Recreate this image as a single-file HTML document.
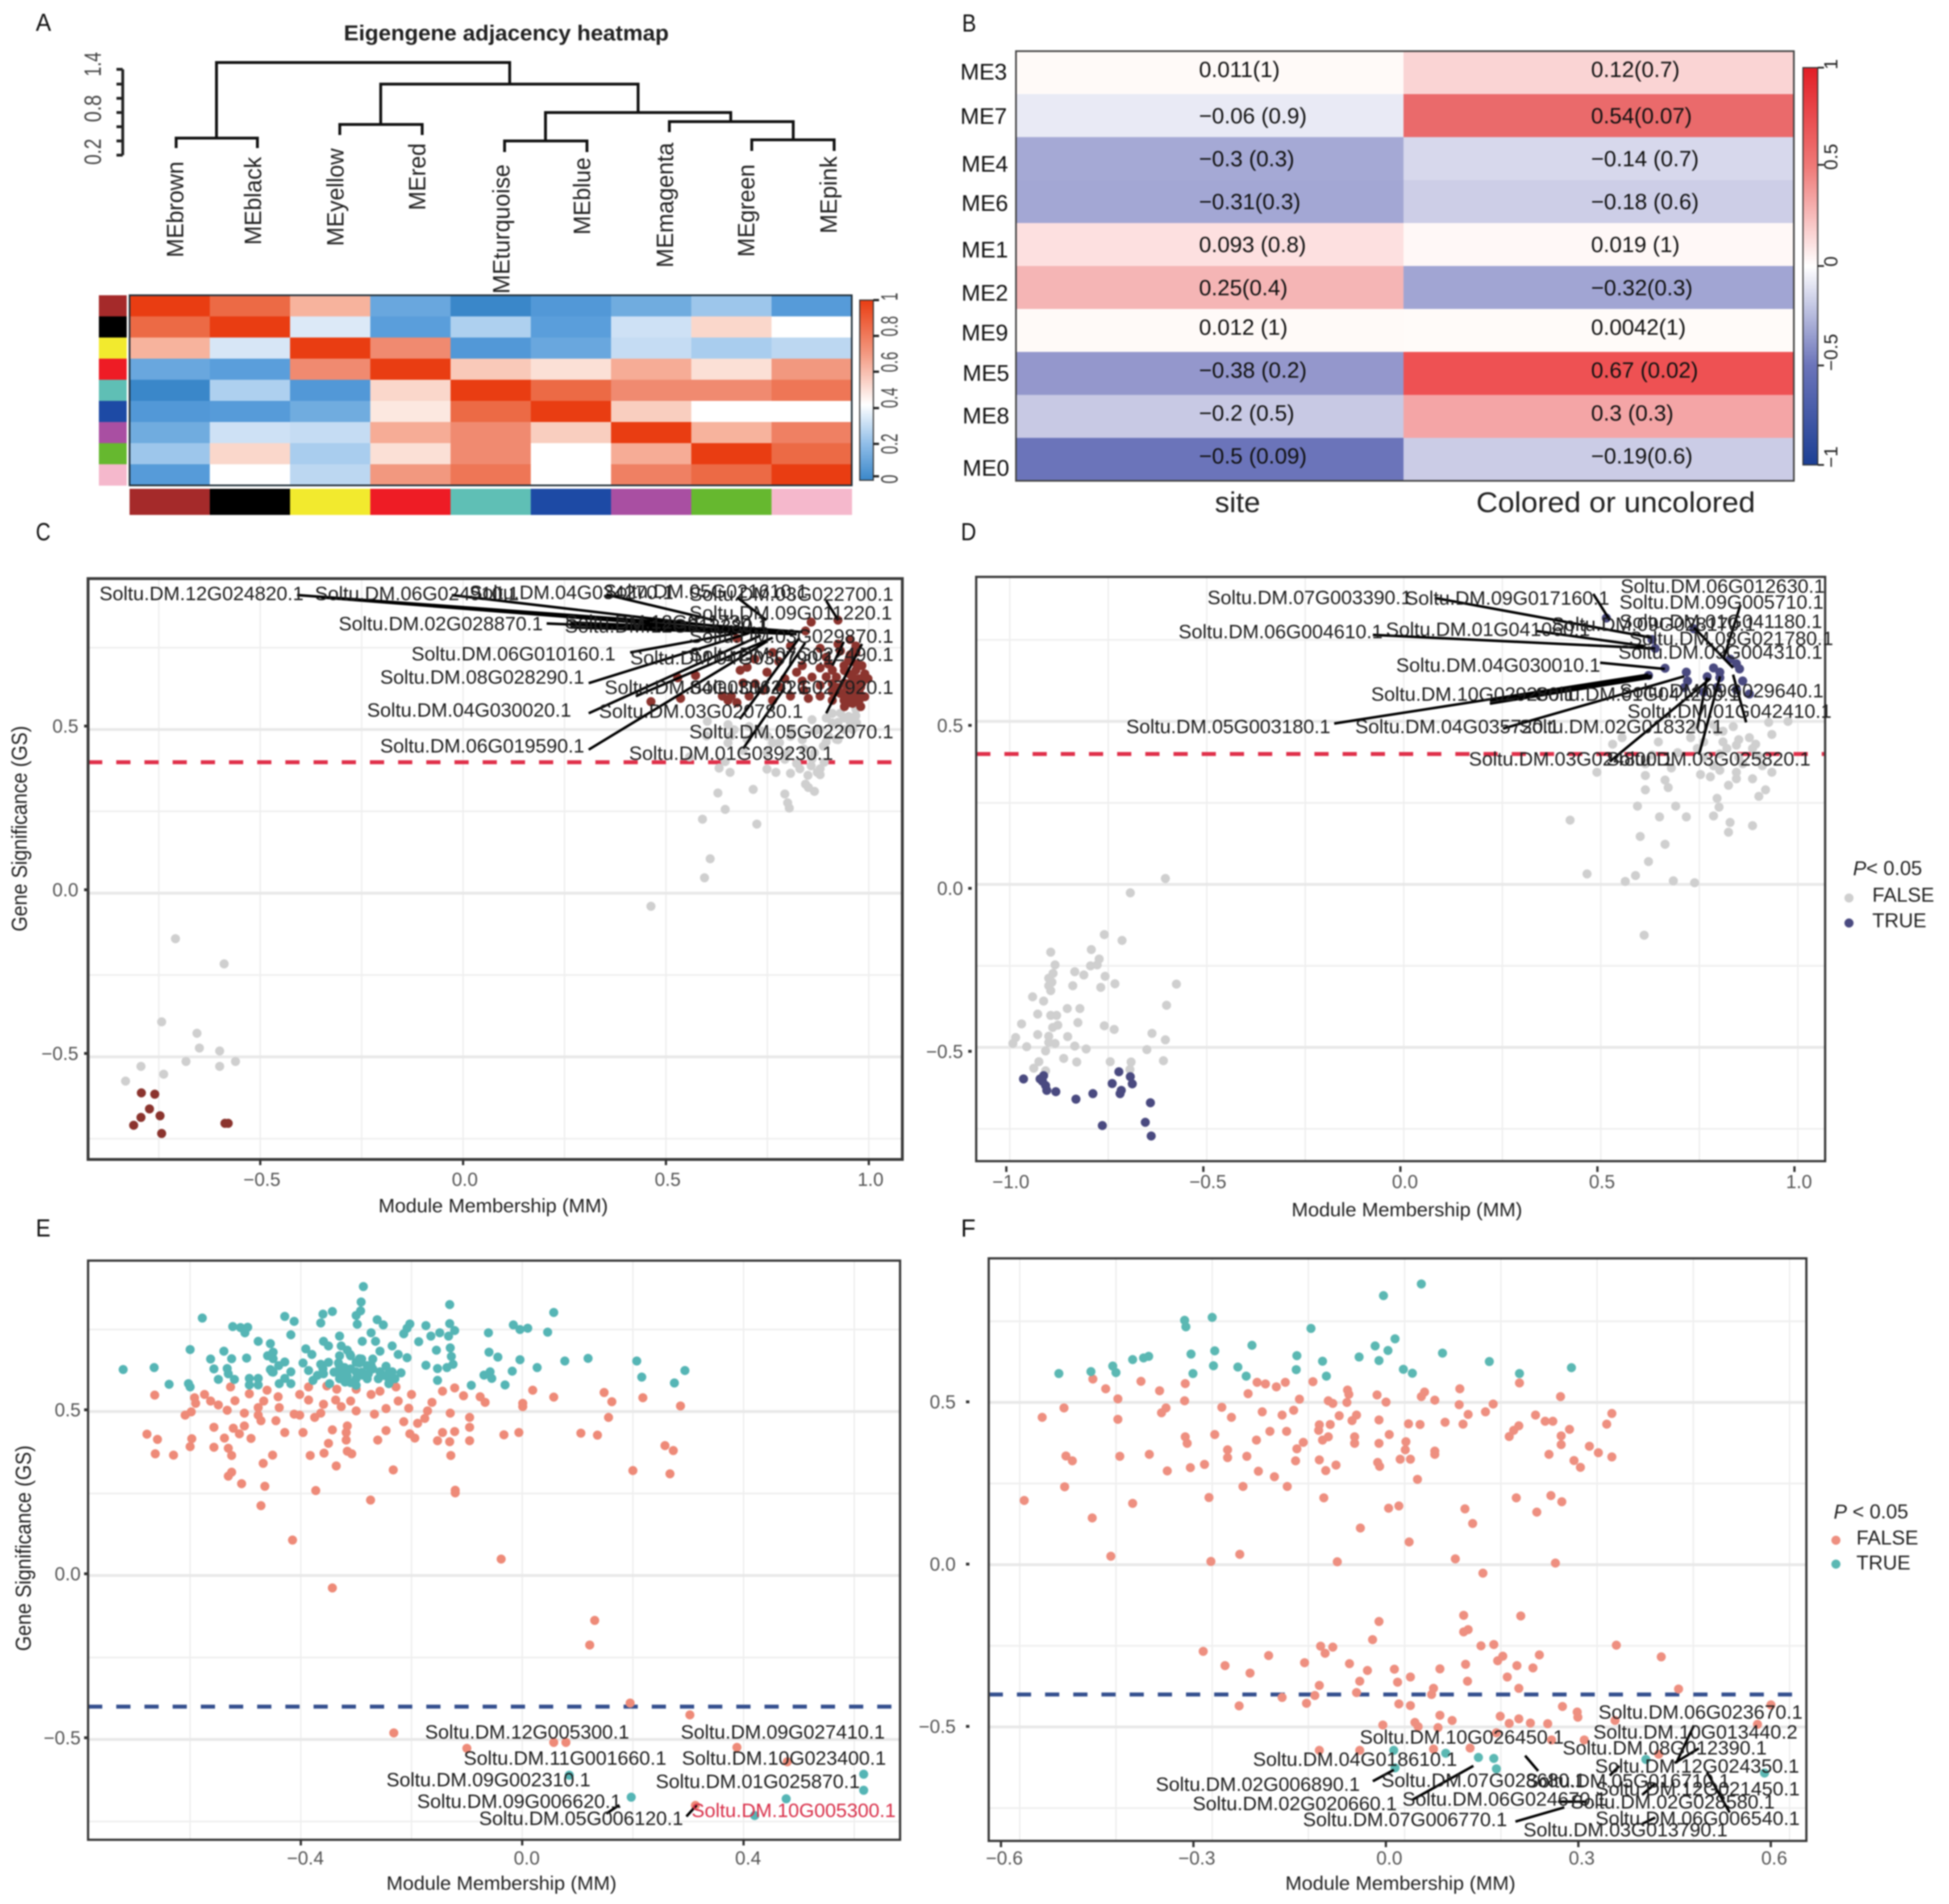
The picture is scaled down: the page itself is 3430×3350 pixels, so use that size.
<!DOCTYPE html>
<html lang="en">
<head>
<meta charset="utf-8">
<title>WGCNA module figure</title>
<style>
html,body{margin:0;padding:0;background:#fff;}
svg{display:block;filter:blur(1.3px);}
text{font-family:"Liberation Sans",Arial,sans-serif;dominant-baseline:central;}
.g{font-size:34.4px;fill:#1d1d1d;}
.c{stroke:#000;stroke-width:4.5;fill:none;}
.pl{font-size:44px;fill:#111;}
.row{font-size:40px;fill:#111;}
.lg{font-size:33px;fill:#222;}
.me{font-size:42px;fill:#222;}
.ax{font-size:42px;fill:#444;}
.dn{stroke:#111;stroke-width:5;fill:none;stroke-linecap:square;}
</style>
</head>
<body>
<svg id="figure" xmlns="http://www.w3.org/2000/svg" width="3430" height="3350" viewBox="0 0 3430 3350">
<defs>
<linearGradient id="adjGrad" x1="0" y1="1" x2="0" y2="0">
<stop offset="0" stop-color="#3a87c9"/><stop offset="0.2" stop-color="#8fbde8"/><stop offset="0.42" stop-color="#ffffff"/><stop offset="0.7" stop-color="#f39a82"/><stop offset="1" stop-color="#e93d12"/>
</linearGradient>
<linearGradient id="corGrad" x1="0" y1="1" x2="0" y2="0">
<stop offset="0" stop-color="#1c3f94"/><stop offset="0.25" stop-color="#6b74ba"/><stop offset="0.5" stop-color="#ffffff"/><stop offset="0.75" stop-color="#ef7a78"/><stop offset="1" stop-color="#e21e26"/>
</linearGradient>
</defs>

<rect x="0" y="0" width="3430" height="3350" fill="#ffffff"/>

<text class="pl" x="63" y="40" textLength="27" lengthAdjust="spacingAndGlyphs">A</text>
<text class="pl" x="1693" y="41" textLength="25" lengthAdjust="spacingAndGlyphs">B</text>
<text class="pl" x="63" y="936" textLength="26" lengthAdjust="spacingAndGlyphs">C</text>
<text class="pl" x="1691" y="936" textLength="27" lengthAdjust="spacingAndGlyphs">D</text>
<text class="pl" x="63" y="2161" textLength="26" lengthAdjust="spacingAndGlyphs">E</text>
<text class="pl" x="1691" y="2161" textLength="26" lengthAdjust="spacingAndGlyphs">F</text>

<!-- Panel A -->
<text x="605" y="59" font-size="38" font-weight="700" fill="#222" textLength="572" lengthAdjust="spacingAndGlyphs">Eigengene adjacency heatmap</text>
<g>
<path class="dn" d="M310 258V243H453V258M381 243V110H897V148"/>
<path class="dn" d="M670 219V148H1123V198"/>
<path class="dn" d="M598 235V219H743V235"/>
<path class="dn" d="M960 248V198H1286V214"/>
<path class="dn" d="M888 265V248H1033V265"/>
<path class="dn" d="M1178 230V214H1396V246"/>
<path class="dn" d="M1323 263V246H1468V263"/>
</g>
<g>
<path d="M216 122V273M205 122H216M205 148H216M205 173H216M205 198H216M205 223H216M205 248H216M205 273H216" stroke="#222" stroke-width="5" fill="none"/>
<text class="ax" transform="rotate(-90 163 113)" x="163" y="113" text-anchor="middle" textLength="43" lengthAdjust="spacingAndGlyphs">1.4</text>
<text class="ax" transform="rotate(-90 163 191)" x="163" y="191" text-anchor="middle" textLength="48" lengthAdjust="spacingAndGlyphs">0.8</text>
<text class="ax" transform="rotate(-90 163 267)" x="163" y="267" text-anchor="middle" textLength="46" lengthAdjust="spacingAndGlyphs">0.2</text>
</g>
<g>
<text class="me" transform="rotate(-90 308 453)" x="308" y="453" textLength="169" lengthAdjust="spacingAndGlyphs">MEbrown</text>
<text class="me" transform="rotate(-90 445 431)" x="445" y="431" textLength="155" lengthAdjust="spacingAndGlyphs">MEblack</text>
<text class="me" transform="rotate(-90 590 433)" x="590" y="433" textLength="172" lengthAdjust="spacingAndGlyphs">MEyellow</text>
<text class="me" transform="rotate(-90 734 370)" x="734" y="370" textLength="118" lengthAdjust="spacingAndGlyphs">MEred</text>
<text class="me" transform="rotate(-90 882 517)" x="882" y="517" textLength="228" lengthAdjust="spacingAndGlyphs">MEturquoise</text>
<text class="me" transform="rotate(-90 1024 413)" x="1024" y="413" textLength="136" lengthAdjust="spacingAndGlyphs">MEblue</text>
<text class="me" transform="rotate(-90 1170 471)" x="1170" y="471" textLength="220" lengthAdjust="spacingAndGlyphs">MEmagenta</text>
<text class="me" transform="rotate(-90 1313 452)" x="1313" y="452" textLength="163" lengthAdjust="spacingAndGlyphs">MEgreen</text>
<text class="me" transform="rotate(-90 1458 411)" x="1458" y="411" textLength="136" lengthAdjust="spacingAndGlyphs">MEpink</text>
</g>
<g id="adjacency-heatmap"></g>
<g>
<rect x="1513" y="528" width="24" height="317" fill="url(#adjGrad)" stroke="#333" stroke-width="2"/>
<path d="M1537 528H1547M1537 591H1547M1537 654H1547M1537 718H1547M1537 781H1547M1537 838H1547" stroke="#222" stroke-width="4"/>
<text class="ax" transform="rotate(-90 1565 522)" x="1565" y="522" text-anchor="middle" textLength="14" lengthAdjust="spacingAndGlyphs">1</text>
<text class="ax" transform="rotate(-90 1565 574)" x="1565" y="574" text-anchor="middle" textLength="36" lengthAdjust="spacingAndGlyphs">0.8</text>
<text class="ax" transform="rotate(-90 1565 637)" x="1565" y="637" text-anchor="middle" textLength="36" lengthAdjust="spacingAndGlyphs">0.6</text>
<text class="ax" transform="rotate(-90 1565 700)" x="1565" y="700" text-anchor="middle" textLength="36" lengthAdjust="spacingAndGlyphs">0.4</text>
<text class="ax" transform="rotate(-90 1565 781)" x="1565" y="781" text-anchor="middle" textLength="36" lengthAdjust="spacingAndGlyphs">0.2</text>
<text class="ax" transform="rotate(-90 1565 843)" x="1565" y="843" text-anchor="middle" textLength="16" lengthAdjust="spacingAndGlyphs">0</text>
</g>

<!-- Panel B -->
<g id="trait-heatmap"></g>
<g>
<text class="row" x="1690" y="127">ME3</text>
<text class="row" x="1690" y="205">ME7</text>
<text class="row" x="1692" y="289">ME4</text>
<text class="row" x="1692" y="358">ME6</text>
<text class="row" x="1692" y="440">ME1</text>
<text class="row" x="1692" y="516">ME2</text>
<text class="row" x="1692" y="586">ME9</text>
<text class="row" x="1694" y="657">ME5</text>
<text class="row" x="1694" y="732">ME8</text>
<text class="row" x="1694" y="824">ME0</text>
</g>
<text x="2138" y="884" font-size="50" fill="#222" textLength="80" lengthAdjust="spacingAndGlyphs">site</text>
<text x="2598" y="884" font-size="50" fill="#222" textLength="491" lengthAdjust="spacingAndGlyphs">Colored or uncolored</text>
<g>
<rect x="3173" y="119" width="26" height="699" fill="url(#corGrad)" stroke="#333" stroke-width="2"/>
<path d="M3199 119H3210M3199 290H3210M3199 468H3210M3199 643H3210M3199 818H3210" stroke="#222" stroke-width="3"/>
<text class="lg" transform="rotate(-90 3222 113)" x="3222" y="113" text-anchor="middle">1</text>
<text class="lg" transform="rotate(-90 3222 276)" x="3222" y="276" text-anchor="middle">0.5</text>
<text class="lg" transform="rotate(-90 3222 460)" x="3222" y="460" text-anchor="middle">0</text>
<text class="lg" transform="rotate(-90 3222 620)" x="3222" y="620" text-anchor="middle">−0.5</text>
<text class="lg" transform="rotate(-90 3222 804)" x="3222" y="804" text-anchor="middle">−1</text>
</g>

<!-- Panel C -->
<g id="plot-c"></g>
<g>
<path class="c" d="M523 1047L1412 1112M565 1051L1308 1110M795 1047L1297 1106M1067 1046L1255 1091M1297 1051L1349 1091M1454 1057L1475 1091M962 1097L1402 1116M1004 1095L1391 1112M1004 1104L1360 1114M1109 1148L1297 1114M1036 1202L1318 1114M1036 1255L1339 1118M1119 1225L1360 1122M1036 1319L1349 1129M1302 1265L1407 1122M1308 1317L1381 1210M1454 1255L1517 1133M1465 1171L1485 1129M1360 1217L1417 1131"/>
</g>
<g>
<text class="g" x="175" y="1045">Soltu.DM.12G024820.1</text>
<text class="g" x="554" y="1045">Soltu.DM.06G024910.1</text>
<text class="g" x="826" y="1043">Soltu.DM.04G034270.1</text>
<text class="g" x="1062" y="1041">Soltu.DM.05G021610.1</text>
<text class="g" x="1213" y="1046">Soltu.DM.03G022700.1</text>
<text class="g" x="1213" y="1079">Soltu.DM.09G011220.1</text>
<text class="g" x="596" y="1098">Soltu.DM.02G028870.1</text>
<text class="g" x="994" y="1095">Soltu.DM.12G011730.1</text>
<text class="g" x="994" y="1102">Soltu.DM.12G013380.1</text>
<text class="g" x="1213" y="1120">Soltu.DM.03G029870.1</text>
<text class="g" x="724" y="1151">Soltu.DM.06G010160.1</text>
<text class="g" x="1109" y="1158">Soltu.DM.04G030790.1</text>
<text class="g" x="1213" y="1152">Soltu.DM.07G022490.1</text>
<text class="g" x="669" y="1192">Soltu.DM.08G028290.1</text>
<text class="g" x="1064" y="1210">Soltu.DM.04G030620.1</text>
<text class="g" x="1213" y="1210">Soltu.DM.02G027920.1</text>
<text class="g" x="646" y="1250">Soltu.DM.04G030020.1</text>
<text class="g" x="1054" y="1252">Soltu.DM.03G020780.1</text>
<text class="g" x="1213" y="1288">Soltu.DM.05G022070.1</text>
<text class="g" x="669" y="1313">Soltu.DM.06G019590.1</text>
<text class="g" x="1107" y="1326">Soltu.DM.01G039230.1</text>
</g>

<!-- Panel D -->
<g id="plot-d"></g>
<g>
<path class="c" d="M2525 1052L2907 1122M2804 1045L2833 1091M3063 1064L3033 1160M2416 1117L2913 1141M2702 1110L2896 1137M2981 1104L3050 1175M2816 1166L2930 1177M2348 1273L2901 1187M2622 1233L2907 1189M2622 1238L2907 1192M2645 1282L2964 1190M2833 1340L3010 1194M2990 1328L3027 1190M3073 1271L3050 1187M2987 1282L3004 1192"/>
</g>
<g>
<text class="g" x="2852" y="1032">Soltu.DM.06G012630.1</text>
<text class="g" x="2850" y="1060">Soltu.DM.09G005710.1</text>
<text class="g" x="2125" y="1052">Soltu.DM.07G003390.1</text>
<text class="g" x="2473" y="1053">Soltu.DM.09G017160.1</text>
<text class="g" x="2850" y="1094">Soltu.DM.01G041180.1</text>
<text class="g" x="2730" y="1099">Soltu.DM.09G028170.1</text>
<text class="g" x="2074" y="1112">Soltu.DM.06G004610.1</text>
<text class="g" x="2439" y="1108">Soltu.DM.01G041060.1</text>
<text class="g" x="2867" y="1124">Soltu.DM.08G021780.1</text>
<text class="g" x="2848" y="1148">Soltu.DM.09G004310.1</text>
<text class="g" x="2457" y="1171">Soltu.DM.04G030010.1</text>
<text class="g" x="2413" y="1222">Soltu.DM.10G029280.1</text>
<text class="g" x="2702" y="1222">Soltu.DM.01G041200.1</text>
<text class="g" x="2850" y="1216">Soltu.DM.09G029640.1</text>
<text class="g" x="2864" y="1252">Soltu.DM.01G042410.1</text>
<text class="g" x="1982" y="1279">Soltu.DM.05G003180.1</text>
<text class="g" x="2385" y="1279">Soltu.DM.04G035720.1</text>
<text class="g" x="2673" y="1279">Soltu.DM.02G018320.1</text>
<text class="g" x="2585" y="1336">Soltu.DM.03G024800.1</text>
<text class="g" x="2827" y="1336">Soltu.DM.03G025820.1</text>
</g>
<g>
<text x="3261" y="1528" font-size="35" fill="#222"><tspan font-style="italic">P</tspan>&lt; 0.05</text>
<circle cx="3254" cy="1580" r="8" fill="#cfcfcf"/>
<text x="3295" y="1575" font-size="35" fill="#222">FALSE</text>
<circle cx="3254" cy="1624" r="8" fill="#4a4a80"/>
<text x="3295" y="1620" font-size="35" fill="#222">TRUE</text>
</g>

<!-- Panel E -->
<g id="plot-e"></g>
<g>
<path class="c" d="M1067 3191L1090 3176M1208 3196L1226 3176"/>
</g>
<g>
<text class="g" x="748" y="3048">Soltu.DM.12G005300.1</text>
<text class="g" x="1198" y="3048">Soltu.DM.09G027410.1</text>
<text class="g" x="816" y="3094">Soltu.DM.11G001660.1</text>
<text class="g" x="1200" y="3094">Soltu.DM.10G023400.1</text>
<text class="g" x="680" y="3132">Soltu.DM.09G002310.1</text>
<text class="g" x="1154" y="3135">Soltu.DM.01G025870.1</text>
<text class="g" x="734" y="3170">Soltu.DM.09G006620.1</text>
<text class="g" x="843" y="3200">Soltu.DM.05G006120.1</text>
<text class="g" x="1217" y="3186" style="fill:#d9304a">Soltu.DM.10G005300.1</text>
</g>

<!-- Panel F -->
<g id="plot-f"></g>
<g>
<path class="c" d="M2981 3036L2950 3102M2990 3076L2947 3102M2833 3124L2850 3107M2913 3138L2890 3158M3004 3118L3044 3189M2684 3089L2707 3116M2416 3134L2453 3114M2593 3107L2485 3167M2667 3205L2753 3180M2742 3170L2793 3170M2890 3209L2913 3198"/>
</g>
<g>
<text class="g" x="2813" y="3013">Soltu.DM.06G023670.1</text>
<text class="g" x="2804" y="3048">Soltu.DM.10G013440.2</text>
<text class="g" x="2750" y="3076">Soltu.DM.08G012390.1</text>
<text class="g" x="2393" y="3057">Soltu.DM.10G026450.1</text>
<text class="g" x="2205" y="3096">Soltu.DM.04G018610.1</text>
<text class="g" x="2807" y="3108">Soltu.DM.12G024350.1</text>
<text class="g" x="2034" y="3140">Soltu.DM.02G006890.1</text>
<text class="g" x="2431" y="3133">Soltu.DM.07G028680.1</text>
<text class="g" x="2685" y="3134">Soltu.DM.05G016710.1</text>
<text class="g" x="2808" y="3148">Soltu.DM.12G021450.1</text>
<text class="g" x="2099" y="3174">Soltu.DM.02G020660.1</text>
<text class="g" x="2468" y="3166">Soltu.DM.06G024670.1</text>
<text class="g" x="2764" y="3171">Soltu.DM.02G028580.1</text>
<text class="g" x="2293" y="3202">Soltu.DM.07G006770.1</text>
<text class="g" x="2808" y="3200">Soltu.DM.06G006540.1</text>
<text class="g" x="2681" y="3220">Soltu.DM.03G013790.1</text>
</g>
<g>
<text x="3227" y="2660" font-size="35" fill="#222"><tspan font-style="italic">P</tspan> &lt; 0.05</text>
<circle cx="3231" cy="2710" r="8" fill="#ee8f80"/>
<text x="3267" y="2706" font-size="35" fill="#222">FALSE</text>
<circle cx="3231" cy="2752" r="8" fill="#5bb8b3"/>
<text x="3267" y="2750" font-size="35" fill="#222">TRUE</text>
</g>
</svg>

<script>
/* Panel A data */
const adjModules = ['brown','black','yellow','red','turquoise','blue','magenta','green','pink'];
const adjModuleColors = ['#a52a2a','#000000','#f2ea2e','#ee1c25','#5fbfb5','#1d4aa5','#a94fa2','#66b82f','#f5b8cc'];
const adjMatrix = [
[1,.85,.6,.12,0,.06,.14,.22,.07],
[.85,1,.35,.08,.25,.08,.32,.52,.42],
[.6,.34,1,.72,.06,.12,.3,.24,.28],
[.12,.08,.72,1,.55,.5,.62,.5,.68],
[0,.25,.06,.52,1,.85,.72,.72,.8],
[.06,.07,.14,.48,.85,1,.54,.42,.42],
[.14,.32,.3,.62,.72,.54,1,.6,.76],
[.22,.52,.24,.5,.72,.42,.62,1,.85],
[.07,.42,.28,.68,.8,.42,.76,.85,1]];

/* Panel B data */
const traitRows = ['ME3','ME7','ME4','ME6','ME1','ME2','ME9','ME5','ME8','ME0'];
const siteCor = [.011,-.06,-.3,-.31,.093,.25,.012,-.38,-.2,-.5];
const colorCor = [.12,.54,-.14,-.18,.019,-.32,.0042,.67,.3,-.19];
const sitePrinted = ['0.011(1)','−0.06 (0.9)','−0.3 (0.3)','−0.31(0.3)','0.093 (0.8)','0.25(0.4)','0.012 (1)','−0.38 (0.2)','−0.2 (0.5)','−0.5 (0.09)'];
const colorPrinted = ['0.12(0.7)','0.54(0.07)','−0.14 (0.7)','−0.18 (0.6)','0.019 (1)','−0.32(0.3)','0.0042(1)','0.67 (0.02)','0.3 (0.3)','−0.19(0.6)'];

/* Panel C data */
const cXTicks = [-.5,0,.5,1];
const cXMinor = [-.75,-.25,.25,.75];
const cYTicks = [.5,0,-.5];
const cYMinor = [.75,.25,-.25,-.75];
const cThreshold = [.4];
const cFalseMM = [-.709,-.589,-.743,-.656,-.65,-.6,-.561,-.683,-.6,-.794,-.738,-.832,.463,.595,.609,.724,.59,.646,.804,.8,.793,.628,.715,.866,.844,.851,.873,.807,.771,.658,.88,.631,.749,.858,.602,.653,.668,.705,.734,.807,.836,.895,.924,.653,.763,.807,.91,.939,.968,.954,.924,.895,.968,.866,.69,.749,.866,.888,.558,.646,.793,.822,.93,.95,.97,.91,.94,.96,.88,.86,.9,.92,.84,.8,.78,.75,.7,.66,.6,.86,.89,.83,.88,.85];
const cFalseGS = [-.139,-.216,-.393,-.428,-.473,-.482,-.514,-.514,-.529,-.529,-.553,-.574,-.04,.047,.105,.211,.226,.256,.26,.276,.303,.306,.317,.311,.333,.323,.369,.366,.369,.369,.362,.382,.379,.389,.525,.515,.499,.509,.495,.502,.469,.462,.469,.459,.459,.479,.549,.535,.562,.522,.522,.535,.542,.495,.436,.429,.429,.449,.416,.402,.409,.396,.55,.54,.52,.52,.5,.5,.5,.53,.48,.47,.44,.43,.46,.48,.47,.48,.48,.41,.4,.38,.38,.36];
const cTrueMM = [-.793,-.76,-.773,-.794,-.747,-.812,-.743,-.587,-.579,.858,.924,.844,.675,.954,.924,.968,.807,.88,.763,.683,.749,.822,.88,.91,.939,.968,.983,.954,.976,.895,.836,.793,.573,.529,.536,.463,.661,.675,.705,.763,.807,.851,.91,.939,.968,.983,.954,.976,.924,.968,.983,.998,.88,.836,.778,.719,.895,.954,.968,.69,.939,.91,.968,.946,.961,.939,.976,.88,.653,.639,.93,.95,.97,.99,.94,.96,.92,.98,.95,.97,.93,.99,.96,.94,.98,.97,.95,.985,.91,.9,.86,.84,.78,.72,.7,.74];
const cTrueGS = [-.61,-.614,-.659,-.685,-.68,-.709,-.734,-.703,-.703,.828,.834,.801,.778,.775,.761,.755,.755,.748,.735,.681,.675,.675,.688,.681,.695,.681,.695,.668,.655,.661,.648,.655,.665,.658,.595,.585,.602,.582,.602,.589,.602,.595,.615,.602,.595,.602,.582,.615,.628,.635,.642,.655,.635,.695,.708,.715,.721,.728,.735,.642,.642,.589,.622,.622,.608,.589,.589,.602,.589,.602,.74,.71,.7,.67,.68,.66,.66,.63,.64,.61,.61,.6,.58,.57,.57,.64,.6,.65,.64,.7,.66,.62,.63,.64,.69,.62];

/* Panel D data */
const dXTicks = [-1,-.5,0,.5,1];
const dXMinor = [-.75,-.25,.25,.75];
const dYTicks = [.5,0,-.5];
const dYMinor = [.75,.25,-.25,-.75];
const dThreshold = [.4];
const dFalseMM = [-.605,-.694,-.76,-.715,-.793,-.896,-.773,-.885,-.795,-.778,-.835,-.812,-.89,-.758,-.901,-.893,-.733,-.577,-.84,-.901,-.769,-.896,-.942,-.914,-.602,-.854,-.822,-.929,-.896,-.881,-.97,-.827,-.878,-.891,-.76,-.735,-.929,-.639,-.901,-.853,-.985,-.992,-.605,-.901,-.885,-.957,-.835,-.806,-.652,-.909,-.863,-.83,-.926,-.745,-.61,-.692,-.939,-.695,-.909,.465,.588,.562,.621,.684,.738,.61,.422,.6,.663,.593,.69,.649,.717,.786,.8,.828,.824,.885,.613,.663,.671,.613,.49,.795,.901,.918,.824,.885,.844,.778,.934,.753,.802,.53,.554,.761,.81,.85,.893,.885,.844,.82,.745,.761,.802,.85,.9,.795,.836,.877,.934,.786,.926,.975,.81,.63,.613,.679,.786,.86,.91,.844,.728,.736,.646,.695];
const dFalseGS = [.018,-.026,-.154,-.172,-.2,-.208,-.229,-.247,-.25,-.247,-.268,-.278,-.273,-.282,-.288,-.3,-.305,-.306,-.311,-.311,-.316,-.326,-.345,-.358,-.371,-.381,-.381,-.398,-.402,-.402,-.428,-.424,-.432,-.439,-.434,-.445,-.461,-.457,-.466,-.467,-.47,-.488,-.477,-.485,-.488,-.498,-.496,-.505,-.507,-.511,-.534,-.545,-.544,-.544,-.541,-.545,-.564,-.568,-.572,.032,.027,.009,.07,.011,.005,-.156,.197,.147,.123,.24,.24,.207,.207,.21,.237,.19,.16,.18,.29,.32,.297,.334,.344,.264,.27,.29,.304,.324,.324,.33,.344,.337,.35,.43,.45,.437,.437,.444,.43,.417,.427,.417,.417,.39,.4,.39,.394,.47,.484,.45,.46,.49,.497,.5,.47,.397,.37,.357,.364,.37,.364,.344,.45,.484,.437,.404];
const dTrueMM = [-.965,-.923,-.914,-.917,-.909,-.906,-.883,-.832,-.789,-.74,-.723,-.694,-.689,-.717,-.72,-.643,-.656,-.765,-.641,.63,.638,.663,.621,.717,.514,.736,.802,.844,.852,.786,.77,.802,.86,.877,.828,.844,.761,.72,.712,.795];
const dTrueGS = [-.597,-.597,-.587,-.604,-.617,-.632,-.636,-.659,-.642,-.611,-.575,-.59,-.612,-.632,-.642,-.67,-.73,-.74,-.772,.751,.724,.663,.641,.651,.817,.784,.651,.677,.661,.664,.637,.634,.624,.584,.691,.597,.59,.624,.604,.604];

/* Panel E data */
const eXTicks = [-.4,0,.4];
const eXMinor = [-.6,-.2,.2,.6];
const eYTicks = [.5,0,-.5];
const eYMinor = [.75,.25,-.25,-.75];
const eThreshold = [-.4];
const eFalseMM = [-.664,-.574,-.592,-.527,-.493,-.461,-.441,-.402,-.386,-.353,-.335,-.3,-.273,-.257,-.228,-.2,-.144,-.122,-.106,-.076,.019,.057,.148,.218,.162,.001,-.067,.286,.001,-.59,-.563,-.549,-.519,-.467,-.386,-.359,-.337,-.31,-.224,-.163,-.609,-.598,-.533,-.502,-.477,-.477,-.439,-.412,-.402,-.375,-.364,-.327,-.3,-.267,-.246,-.205,-.171,-.13,-.095,-.472,-.445,-.214,-.176,-.189,.156,-.557,-.502,-.522,-.511,-.316,-.095,-.678,-.659,-.597,-.538,-.49,-.429,-.396,-.343,-.318,-.246,-.203,-.144,-.122,-.033,-.006,.106,.136,-.318,-.261,-.194,-.153,-.131,-.095,-.6,-.557,-.531,-.525,-.663,-.63,-.451,-.383,-.35,-.358,-.316,-.308,-.129,.258,.273,-.468,-.336,-.233,.2,.267,-.531,-.525,-.507,-.465,-.373,-.121,-.121,-.274,-.472,-.415,-.038,-.343,.131,.122,.195,.303,-.232,.057,.079,-.1,.388,.479,.313];
const eFalseGS = [.55,.552,.542,.575,.554,.565,.545,.552,.575,.578,.568,.568,.552,.562,.575,.552,.562,.572,.548,.545,.565,.544,.558,.542,.53,.525,.528,.517,.515,.525,.532,.52,.533,.532,.535,.522,.535,.532,.532,.528,.489,.499,.504,.495,.512,.489,.512,.492,.489,.482,.495,.515,.502,.492,.509,.51,.502,.495,.482,.472,.472,.469,.479,.464,.482,.452,.456,.449,.432,.456,.452,.431,.415,.417,.419,.418,.436,.436,.444,.436,.442,.432,.436,.439,.429,.436,.434,.428,.413,.413,.419,.411,.408,.411,.393,.391,.388,.366,.371,.367,.367,.366,.403,.373,.379,.371,.366,.396,.381,.342,.334,.322,.32,.31,.303,.315,.28,.272,.259,.26,.252,.23,.213,.108,.05,-.038,-.137,-.212,-.389,-.425,-.48,-.509,-.509,-.527,-.524,-.568,-.701];
const eTrueMM = [-.287,-.291,-.292,-.3,-.131,.057,-.578,-.429,-.412,-.343,-.36,-.364,-.298,-.262,-.251,-.203,-.208,-.214,-.174,-.131,-.122,-.149,-.165,-.133,-.061,-.016,-.004,.01,.046,-.523,-.509,-.496,-.501,-.418,-.477,-.455,-.273,-.33,-.359,-.289,-.265,-.35,-.327,-.6,-.539,-.391,-.316,-.235,-.257,-.187,-.155,-.13,-.06,-.044,-.004,.077,.119,.207,.294,-.45,-.563,-.525,-.498,-.45,-.38,-.311,-.294,-.224,-.208,-.128,-.125,-.721,-.665,-.557,-.533,-.455,-.429,-.396,-.364,-.332,-.294,-.321,-.273,-.246,-.174,-.153,-.136,-.018,.027,-.069,-.058,-.055,.216,-.452,-.418,-.359,-.386,-.327,-.3,-.278,-.257,-.235,-.219,-.531,-.52,-.549,-.493,-.477,-.429,-.378,-.316,-.289,-.241,-.638,-.603,-.6,-.493,-.477,-.439,-.418,-.348,-.31,-.241,-.153,-.092,-.031,.275,.617,.617,.477,.197,.085,.42,-.33,-.31,-.29,-.27,-.25,-.24,-.3,-.32,-.34,-.28,-.26,-.3,-.33,-.36,-.35,-.37,-.29,-.27,-.31,-.33,-.44,-.45,-.46,-.24,-.23,-.3,-.32,-.28];
const eTrueGS = [.881,.834,.807,.793,.826,.802,.785,.79,.775,.805,.797,.77,.766,.78,.764,.767,.754,.737,.762,.768,.747,.74,.73,.73,.74,.764,.75,.754,.742,.759,.756,.757,.74,.734,.714,.707,.74,.73,.714,.714,.714,.7,.7,.689,.684,.691,.687,.7,.684,.713,.687,.694,.681,.666,.658,.654,.662,.654,.625,.681,.66,.661,.663,.661,.674,.674,.661,.674,.664,.668,.644,.628,.634,.63,.631,.628,.651,.648,.644,.648,.648,.634,.641,.638,.641,.631,.634,.623,.634,.611,.621,.601,.605,.621,.621,.615,.625,.621,.621,.615,.621,.621,.618,.615,.598,.598,.601,.601,.601,.595,.608,.611,.601,.583,.585,.575,.581,.581,.585,.585,.585,.588,.585,.595,.58,.581,.587,-.606,-.655,-.681,-.676,-.609,-.732,.64,.63,.62,.63,.61,.62,.65,.61,.62,.6,.6,.6,.6,.63,.65,.61,.66,.66,.67,.67,.64,.62,.67,.59,.6,.58,.59,.64];

/* Panel F data */
const fXTicks = [-.6,-.3,0,.3,.6];
const fXMinor = [-.45,-.15,.15,.45];
const fYTicks = [.5,0,-.5];
const fYMinor = [.75,.25,-.25,-.75];
const fThreshold = [-.4];
const fFalseMM = [-.486,-.411,-.342,-.23,-.217,-.2,-.186,-.143,.179,.086,-.466,-.382,-.089,-.244,.031,-.087,.026,-.043,.243,-.447,-.164,-.343,.047,-.119,-.112,-.09,-.029,.138,.085,-.285,-.531,-.372,-.379,-.173,-.222,.126,-.565,-.27,-.191,-.102,-.075,-.082,.099,.204,.323,-.447,-.04,.219,.231,.006,.024,.063,.091,.315,-.133,-.116,.178,.257,-.21,-.184,-.134,.17,-.024,-.296,.163,-.342,.244,-.078,-.119,-.231,-.128,.002,-.339,-.158,-.078,-.04,.244,-.168,.288,-.276,.001,.047,.047,.302,.225,-.528,-.444,-.398,-.518,-.276,-.246,.323,-.007,.009,-.133,-.17,.264,-.042,-.039,.274,-.107,-.312,-.334,-.37,-.123,-.228,-.203,.02,-.252,-.183,-.53,.174,-.126,.228,.245,-.305,-.593,-.424,-.025,-.009,.094,.206,-.487,.106,-.069,.007,-.458,-.257,-.302,-.105,.079,.235,.122,-.04,.092,.181,.092,.099,-.05,-.131,-.112,-.124,.119,.139,.33,-.314,-.212,-.156,.153,.145,.21,.4,-.28,-.241,-.086,-.058,-.016,.055,.095,.175,.2,.16,.009,-.011,.098,-.07,-.133,.045,.178,.427,-.075,.042,-.14,-.191,-.153,-.258,-.009,.009,.246,.269,.27,.055,.074,.149,.178,.163,.196,.223,-.034,.016,.021,.052,.328,.571,.55,.229,.28,.143,.102,-.133,-.07,.045,.396];
const fFalseGS = [.572,.565,.558,.562,.557,.548,.562,.564,.56,.542,.542,.536,.538,.527,.532,.525,.518,.523,.518,.511,.51,.505,.507,.505,.497,.5,.501,.495,.493,.485,.483,.483,.468,.476,.471,.471,.454,.454,.461,.459,.461,.444,.463,.461,.466,.448,.446,.442,.442,.434,.432,.439,.433,.433,.431,.432,.428,.417,.411,.411,.414,.414,.401,.401,.395,.394,.397,.394,.394,.384,.384,.379,.374,.377,.374,.374,.37,.357,.365,.354,.354,.35,.34,.345,.34,.335,.334,.34,.32,.33,.334,.332,.325,.325,.323,.32,.321,.315,.303,.3,.307,.309,.299,.289,.29,.288,.271,.263,.241,.241,.24,.206,.206,.213,.194,.207,.198,.189,.174,.181,.172,.162,.144,.127,.113,.07,.026,.032,.01,.009,.018,.005,-.026,-.175,-.156,-.158,-.207,-.2,-.231,-.251,-.254,-.273,-.25,-.246,-.248,-.267,-.28,-.302,-.282,-.296,-.278,-.284,-.311,-.334,-.305,-.326,-.322,-.321,-.307,-.311,-.318,-.346,-.346,-.362,-.359,-.359,-.372,-.381,-.381,-.383,-.394,-.4,-.403,-.409,-.427,-.435,-.429,-.434,-.437,-.454,-.47,-.464,-.48,-.467,-.475,-.489,-.488,-.49,-.494,-.486,-.499,-.502,-.48,-.432,-.492,-.54,-.54,-.518,-.565,-.572,-.572,-.568,-.584];
const fTrueMM = [.026,-.033,-.343,-.341,-.3,-.146,-.015,-.238,-.046,-.026,.059,-.296,-.333,-.168,-.399,-.407,-.424,-.04,-.071,-.128,.132,-.298,-.26,-.455,.26,-.169,-.002,-.539,-.489,-.45,-.33,.012,.179,-.247,-.122,-.017,.064,.115,.139,-.015,.143,.376,.561];
const fTrueGS = [.865,.829,.753,.733,.762,.728,.696,.676,.674,.66,.652,.659,.649,.644,.642,.637,.632,.629,.64,.627,.626,.613,.609,.612,.607,.601,.602,.589,.595,.592,.589,.59,.589,.581,.581,-.572,-.581,-.594,-.597,-.626,-.629,-.6,-.642];

const NS = 'http://www.w3.org/2000/svg';
function make(parent, tag, attrs) {
  const node = document.createElementNS(NS, tag);
  for (const k in attrs) node.setAttribute(k, attrs[k]);
  parent.appendChild(node);
  return node;
}
function linear(d0, r0, d1, r1) { return v => r0 + (v - d0) * (r1 - r0) / (d1 - d0); }
function hex(c) { return [1, 3, 5].map(i => parseInt(c.substr(i, 2), 16)); }
function ramp(stops) {
  return v => {
    if (v <= stops[0][0]) return stops[0][1];
    for (let i = 1; i < stops.length; i++) {
      if (v <= stops[i][0]) {
        const t = (v - stops[i - 1][0]) / (stops[i][0] - stops[i - 1][0]);
        const a = hex(stops[i - 1][1]), b = hex(stops[i][1]);
        return 'rgb(' + a.map((x, j) => Math.round(x + (b[j] - x) * t)).join(',') + ')';
      }
    }
    return stops[stops.length - 1][1];
  };
}

/* ---- Panel A ---- */
const adjColor = ramp([[0,'#3a87c9'],[.08,'#5a9edb'],[.15,'#74aee0'],[.24,'#a9cdee'],[.35,'#dce9f7'],[.42,'#ffffff'],[.5,'#fbe0d6'],[.6,'#f7b39d'],[.72,'#f08a70'],[.85,'#ec6a45'],[1,'#e93d12']]);
(function () {
  const g = document.getElementById('adjacency-heatmap');
  const colX = linear(0, 228, adjModules.length, 1499);
  const rowY = linear(0, 519.5, adjModules.length, 854);
  adjMatrix.forEach((row, r) => {
    row.forEach((v, c) => {
      const cell = make(g, 'rect', {x: colX(c), y: rowY(r), width: colX(c + 1) - colX(c) + .5, height: rowY(r + 1) - rowY(r) + .5, fill: adjColor(v)});
      
      
    });
  });
  const frame = make(g, 'rect', {x: 228, y: 519.5, width: 1271, height: 334.5, fill: 'none', stroke: '#22303a', 'stroke-width': 3});
  
  
  adjModuleColors.forEach((col, i) => {
    const left = make(g, 'rect', {x: 174, y: rowY(i), width: 49, height: rowY(i + 1) - rowY(i) + .5, fill: col});
    
    
    const bottom = make(g, 'rect', {x: colX(i), y: 860, width: colX(i + 1) - colX(i) + .5, height: 46, fill: col});
    
    
  });
})();

/* ---- Panel B ---- */
const corColor = ramp([[-1,'#1c3f94'],[-.5,'#6b74ba'],[-.38,'#9497cc'],[-.3,'#a5a9d5'],[-.19,'#cbcce6'],[-.06,'#e9eaf5'],[0,'#fffcfa'],[.02,'#fff8f7'],[.093,'#fde0e0'],[.12,'#fad4d4'],[.25,'#f5b5b5'],[.3,'#f4a5a6'],[.54,'#ea6a6b'],[.67,'#ee5153'],[1,'#e21e26']]);
(function () {
  const g = document.getElementById('trait-heatmap');
  const rowY = linear(0, 90, traitRows.length, 846);
  const columns = [[siteCor, sitePrinted, 1788, 2470, 2110], [colorCor, colorPrinted, 2470, 3157, 2800]];
  columns.forEach(col => {
    traitRows.forEach((name, r) => {
      const cell = make(g, 'rect', {x: col[2], y: rowY(r), width: col[3] - col[2] + .5, height: rowY(r + 1) - rowY(r) + .5, fill: corColor(col[0][r])});
      
      
    });
  });
  const frame = make(g, 'rect', {x: 1788, y: 90, width: 1369, height: 756, fill: 'none', stroke: '#444', 'stroke-width': 3});
  
  
  columns.forEach(col => {
    traitRows.forEach((name, r) => {
      const offset = (r >= 1 && r <= 5) ? 1 : -5;
      const t = make(g, 'text', {x: col[4], y: (rowY(r) + rowY(r + 1)) / 2 + offset, 'font-size': 39, fill: '#111'});
      t.textContent = col[1][r];
      
      
    });
  });
})();

/* ---- Scatter panels ---- */
function drawScatter(cfg) {
  const g = document.getElementById(cfg.id);
  const x = linear(0, cfg.x0, 1, cfg.x1);
  const y = linear(0, cfg.y0, 1, cfg.y1);
  const grid = make(g, 'g', {});
  
  
  cfg.xMinor.concat(cfg.xTicks).forEach(v => {
    const line = make(grid, 'line', {x1: x(v), x2: x(v), y1: cfg.top, y2: cfg.bottom, stroke: '#ececec', 'stroke-width': 2.2});
    
    
  });
  cfg.yMinor.forEach(v => {
    const line = make(grid, 'line', {x1: cfg.left, x2: cfg.right, y1: y(v), y2: y(v), stroke: '#efefef', 'stroke-width': 3});
    
    
  });
  cfg.yTicks.forEach(v => {
    const line = make(grid, 'line', {x1: cfg.left, x2: cfg.right, y1: y(v), y2: y(v), stroke: '#e8e8e8', 'stroke-width': 5});
    
    
  });
  const rule = make(g, 'line', {x1: cfg.left, x2: cfg.right, y1: y(cfg.threshold[0]), y2: y(cfg.threshold[0]), stroke: cfg.ruleColor, 'stroke-width': 7, 'stroke-dasharray': '25 24.6'});
  
  
  cfg.falseMM.forEach((v, i) => {
    const dot = make(g, 'circle', {cx: x(v), cy: y(cfg.falseGS[i]), r: 8, fill: cfg.falseColor});
    
    
  });
  cfg.trueMM.forEach((v, i) => {
    const dot = make(g, 'circle', {cx: x(v), cy: y(cfg.trueGS[i]), r: 8, fill: cfg.trueColor});
    
    
  });
  const border = make(g, 'rect', {x: cfg.left, y: cfg.top, width: cfg.right - cfg.left, height: cfg.bottom - cfg.top, fill: 'none', stroke: '#3a3a3a', 'stroke-width': cfg.border});
  
  
  cfg.xTicks.forEach(v => {
    const px = x(v) + cfg.xTickShift;
    const tick = make(g, 'line', {x1: px, x2: px, y1: cfg.xTickTop, y2: cfg.xTickTop + 10, stroke: '#333', 'stroke-width': 4});
    
    
    const label = make(g, 'text', {x: x(v) + cfg.xLabelShift, y: cfg.xLabelY, 'text-anchor': 'middle', 'font-size': 33, fill: '#555'});
    label.textContent = v.toFixed(1).replace('-', '−');
    
    
  });
  cfg.yTicks.forEach(v => {
    const tick = make(g, 'line', {x1: cfg.yTickX, x2: cfg.yTickX + 6, y1: y(v) + cfg.yLabelShift, y2: y(v) + cfg.yLabelShift, stroke: '#333', 'stroke-width': 5});
    
    
    const label = make(g, 'text', {x: cfg.yLabelRight, y: y(v) + cfg.yLabelShift, 'text-anchor': 'end', 'font-size': 33, fill: '#555'});
    label.textContent = v.toFixed(1).replace('-', '−');
    
    
  });
  const xTitle = make(g, 'text', {x: cfg.xTitleX, y: cfg.xTitleY, 'font-size': 34, fill: '#222', textLength: cfg.xTitleW, lengthAdjust: 'spacingAndGlyphs'});
  xTitle.textContent = 'Module Membership (MM)';
  
  
  if (cfg.yTitleX) {
    const yTitle = make(g, 'text', {x: cfg.yTitleX, y: cfg.yTitleY, transform: 'rotate(-90 ' + cfg.yTitleX + ' ' + cfg.yTitleY + ')', 'font-size': 38, fill: '#222', textLength: 362, lengthAdjust: 'spacingAndGlyphs'});
    yTitle.textContent = 'Gene Significance (GS)';
    
    
  }
}

drawScatter({id:'plot-c',x0:815,x1:1529,y0:1571.5,y1:995.5,left:155,right:1588,top:1018,bottom:2040,border:5,
  xTicks:cXTicks,xMinor:cXMinor,yTicks:cYTicks,yMinor:cYMinor,threshold:cThreshold,ruleColor:'#e0304a',
  falseMM:cFalseMM,falseGS:cFalseGS,trueMM:cTrueMM,trueGS:cTrueGS,falseColor:'#cfcfcf',trueColor:'#8b342e',
  xTickShift:0,xTickTop:2040,xLabelShift:3,xLabelY:2075,yTickX:148,yLabelRight:138,yLabelShift:-6,
  xTitleX:666,xTitleY:2122,xTitleW:404,yTitleX:35,yTitleY:1639});
drawScatter({id:'plot-d',x0:2470.5,x1:3164,y0:1556,y1:982.5,left:1718,right:3212,top:1015,bottom:2043,border:4,
  xTicks:dXTicks,xMinor:dXMinor,yTicks:dYTicks,yMinor:dYMinor,threshold:dThreshold,ruleColor:'#e0304a',
  falseMM:dFalseMM,falseGS:dFalseGS,trueMM:dTrueMM,trueGS:dTrueGS,falseColor:'#cfcfcf',trueColor:'#4a4a80',
  xTickShift:-6,xTickTop:2052,xLabelShift:2,xLabelY:2079,yTickX:1704,yLabelRight:1695,yLabelShift:7,
  xTitleX:2273,xTitleY:2129,xTitleW:406});
drawScatter({id:'plot-e',x0:919,x1:1893,y0:2772,y1:2195,left:155,right:1584,top:2218,bottom:3237,border:4,
  xTicks:eXTicks,xMinor:eXMinor,yTicks:eYTicks,yMinor:eYMinor,threshold:eThreshold,ruleColor:'#35508f',
  falseMM:eFalseMM,falseGS:eFalseGS,trueMM:eTrueMM,trueGS:eTrueGS,falseColor:'#ee8a78',trueColor:'#55b5b5',
  xTickShift:0,xTickTop:3237,xLabelShift:8,xLabelY:3269,yTickX:148,yLabelRight:142,yLabelShift:-3,
  xTitleX:680,xTitleY:3314,xTitleW:405,yTitleX:42,yTitleY:2905});
drawScatter({id:'plot-f',x0:2472,x1:3601,y0:2753,y1:2182,left:1740,right:3179,top:2214,bottom:3239,border:4,
  xTicks:fXTicks,xMinor:fXMinor,yTicks:fYTicks,yMinor:fYMinor,threshold:fThreshold,ruleColor:'#35508f',
  falseMM:fFalseMM,falseGS:fFalseGS,trueMM:fTrueMM,trueGS:fTrueGS,falseColor:'#ee8f80',trueColor:'#5bb8b3',
  xTickShift:-33,xTickTop:3240,xLabelShift:-27,xLabelY:3269,yTickX:1700,yLabelRight:1682,yLabelShift:-1,
  xTitleX:2262,xTitleY:3314,xTitleW:405});
</script>
</body>
</html>
